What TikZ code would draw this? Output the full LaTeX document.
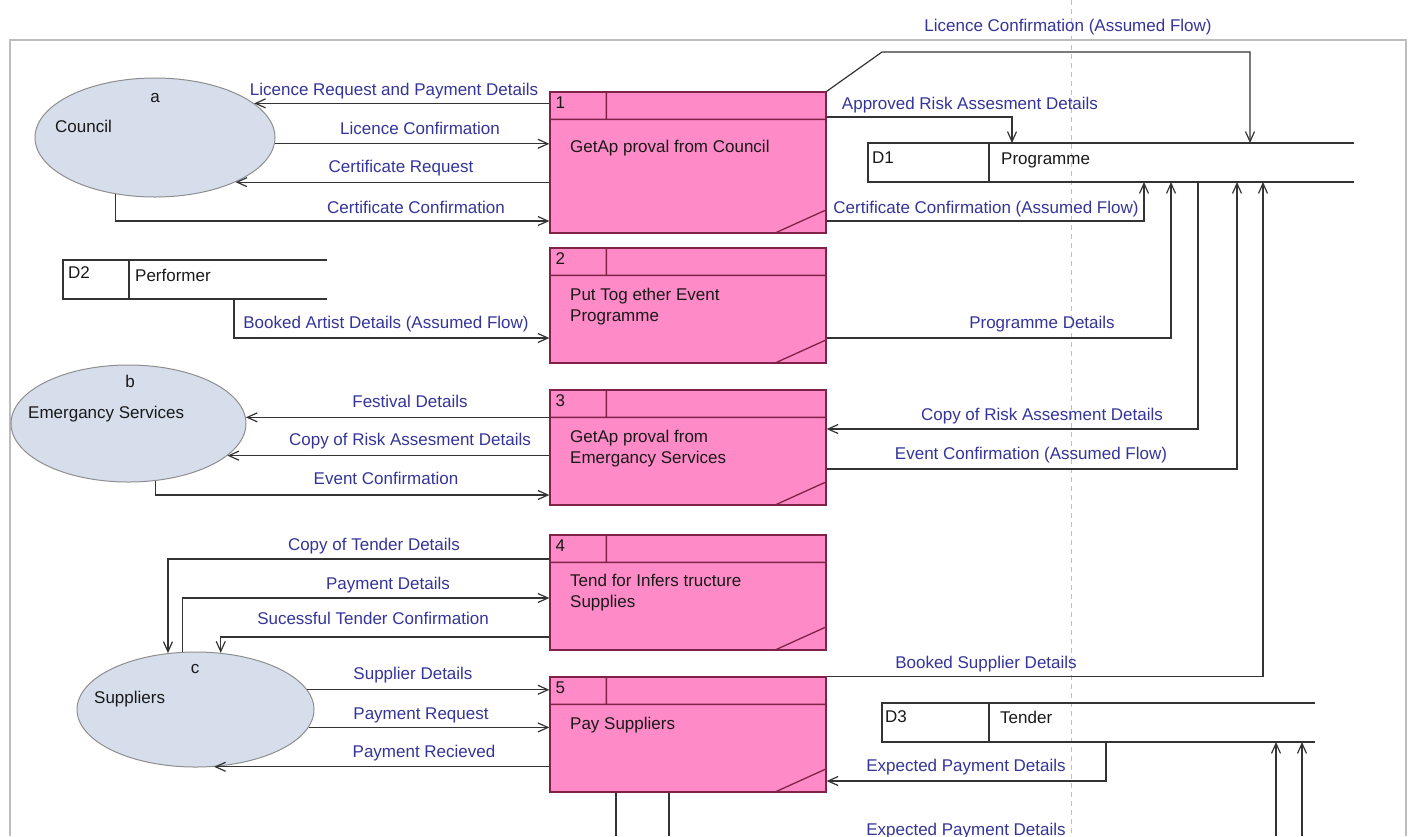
\documentclass[tikz,border=0pt]{standalone}
\usepackage{fontspec}
\setmainfont{Liberation Sans}
\usetikzlibrary{arrows.meta,shapes.geometric}
\definecolor{procfill}{HTML}{FF8AC8}
\definecolor{procedge}{HTML}{7E2347}
\definecolor{extfill}{HTML}{D6DEEC}
\definecolor{extedge}{HTML}{8E8E8E}
\definecolor{flowtext}{HTML}{34349A}
\definecolor{framegray}{HTML}{BDBDBD}
\tikzset{
  process/.style={rectangle, draw=procedge, fill=procfill, line width=1.3pt, minimum width=276, minimum height=115, inner sep=0},
  procline/.style={draw=procedge, line width=1.3pt},
  extent/.style={ellipse, draw=extedge, fill=extfill, line width=1pt, inner sep=0},
  store/.style={rectangle, inner sep=0, outer sep=0, minimum height=39},
  storeline/.style={draw=black!80, line width=1.2pt},
  flow/.style={draw=black!80, line width=1.2pt, -{Straight Barb[length=10pt,width=9pt]}},
  plainflow/.style={draw=black!80, line width=1.2pt},
  flowlab/.style={text=flowtext, font=\fontsize{17}{21}\selectfont, inner sep=0, anchor=base},
  proctext/.style={text=black!90, font=\fontsize{17}{21}\selectfont, inner sep=0, anchor=base west, align=left},
  boxlab/.style={text=black!90, font=\fontsize{17}{21}\selectfont, inner sep=0, anchor=base west}
}
\begin{document}
\begin{tikzpicture}[x=1pt,y=-1pt]
\useasboundingbox (0,0) rectangle (1410,836);
\draw[black!25, line width=0.8pt, dash pattern=on 5pt off 4pt] (1071,0) -- (1071,836);
\draw[framegray, line width=1.5pt] (10,836) -- (10,40) -- (1406,40) -- (1406,836);

\node[extent, minimum width=240, minimum height=119] (council) at (155,137.5) {};
\node[boxlab, anchor=base] (councilid) at (155,102) {a};
\node[boxlab] (councilname) at (55,132) {Council};
\node[extent, minimum width=235, minimum height=117] (emerg) at (128.5,423.5) {};
\node[boxlab, anchor=base] (emergid) at (130,387) {b};
\node[boxlab] (emergname) at (28,418) {Emergancy Services};
\node[extent, minimum width=237, minimum height=115] (supp) at (195.5,709.5) {};
\node[boxlab, anchor=base] (suppid) at (195,673) {c};
\node[boxlab] (suppname) at (94,703) {Suppliers};

\node[process, minimum height=141] (p1) at (688,162.5) {};
\draw[procline] ([yshift=-28]p1.north west) -- ([yshift=-28]p1.north east) ([xshift=57]p1.north west) -- ([xshift=57,yshift=-28]p1.north west) ([xshift=-53]p1.south east) -- ([yshift=24]p1.south east);
\node[boxlab] (p1id) at ([xshift=6,yshift=-17]p1.north west) {1};
\node[proctext] (p1text) at (570,152) {GetAp proval from Council};
\node[process] (p2) at (688,305.5) {};
\draw[procline] ([yshift=-28]p2.north west) -- ([yshift=-28]p2.north east) ([xshift=57]p2.north west) -- ([xshift=57,yshift=-28]p2.north west) ([xshift=-53]p2.south east) -- ([yshift=24]p2.south east);
\node[boxlab] (p2id) at ([xshift=6,yshift=-17]p2.north west) {2};
\node[proctext] (p2text) at (570,321) {Put Tog ether Event\\Programme};
\node[process] (p3) at (688,447.5) {};
\draw[procline] ([yshift=-28]p3.north west) -- ([yshift=-28]p3.north east) ([xshift=57]p3.north west) -- ([xshift=57,yshift=-28]p3.north west) ([xshift=-53]p3.south east) -- ([yshift=24]p3.south east);
\node[boxlab] (p3id) at ([xshift=6,yshift=-17]p3.north west) {3};
\node[proctext] (p3text) at (570,463) {GetAp proval from\\Emergancy Services};
\node[process] (p4) at (688,592.5) {};
\draw[procline] ([yshift=-28]p4.north west) -- ([yshift=-28]p4.north east) ([xshift=57]p4.north west) -- ([xshift=57,yshift=-28]p4.north west) ([xshift=-53]p4.south east) -- ([yshift=24]p4.south east);
\node[boxlab] (p4id) at ([xshift=6,yshift=-17]p4.north west) {4};
\node[proctext] (p4text) at (570,607) {Tend for Infers tructure\\Supplies};
\node[process] (p5) at (688,734.5) {};
\draw[procline] ([yshift=-28]p5.north west) -- ([yshift=-28]p5.north east) ([xshift=57]p5.north west) -- ([xshift=57,yshift=-28]p5.north west) ([xshift=-53]p5.south east) -- ([yshift=24]p5.south east);
\node[boxlab] (p5id) at ([xshift=6,yshift=-17]p5.north west) {5};
\node[proctext] (p5text) at (570,729) {Pay Suppliers};

\node[store, minimum width=486] (d1) at (1111,162.5) {};
\draw[storeline] (d1.north east) -- (d1.north west) -- (d1.south west) -- (d1.south east) (989,0 |- d1.north) -- (989,0 |- d1.south);
\node[boxlab] (d1id) at (872,163) {D1};
\node[boxlab] (d1name) at (1001,164) {Programme};
\node[store, minimum width=264] (d2) at (195,279.5) {};
\draw[storeline] (d2.north east) -- (d2.north west) -- (d2.south west) -- (d2.south east) (129,0 |- d2.north) -- (129,0 |- d2.south);
\node[boxlab] (d2id) at (68,278) {D2};
\node[boxlab] (d2name) at (135,281) {Performer};
\node[store, minimum width=433] (d3) at (1098.5,722.5) {};
\draw[storeline] (d3.north east) -- (d3.north west) -- (d3.south west) -- (d3.south east) (989,0 |- d3.north) -- (989,0 |- d3.south);
\node[boxlab] (d3id) at (885,722) {D3};
\node[boxlab] (d3name) at (1000,723) {Tender};

\draw[flow] (p1.west |- council.19) -- (council.19);
\node[flowlab] (f1) at (394,95) {Licence Request and Payment Details};
\draw[flow] (council.-3) -- (p1.west |- council.-3);
\node[flowlab] (f2) at (420,134) {Licence Confirmation};
\draw[flow] (p1.west |- council.-29) -- (council.-29);
\node[flowlab] (f3) at (401,172) {Certificate Request};
\draw[flow] (council.-125) |- (p1.west |- 0,221);
\node[flowlab] (f4) at (416,213) {Certificate Confirmation};
\draw[flow] (p1.north east) -- (882,52) -| (1250,0 |- d1.north);
\node[flowlab] (f5) at (1068,31) {Licence Confirmation (Assumed Flow)};
\draw[flow] (p1.east |- 0,117) -| (1012,0 |- d1.north);
\node[flowlab] (f6) at (970,109) {Approved Risk Assesment Details};
\draw[flow] (p1.east |- 0,221) -| (1144,0 |- d1.south);
\node[flowlab] (f7) at (986,213) {Certificate Confirmation (Assumed Flow)};

\draw[flow] (234,0 |- d2.south) |- (p2.west |- 0,338);
\node[flowlab] (f8) at (386,328) {Booked Artist Details (Assumed Flow)};
\draw[flow] (p2.east |- 0,338) -| (1171,0 |- d1.south);
\node[flowlab] (f9) at (1042,328) {Programme Details};

\draw[flow] (p3.west |- emerg.3) -- (emerg.3);
\node[flowlab] (f10) at (410,407) {Festival Details};
\draw[flow] (p3.west |- emerg.-18) -- (emerg.-18);
\node[flowlab] (f11) at (410,445) {Copy of Risk Assesment Details};
\draw[flow] (emerg.-65) |- (p3.west |- 0,495);
\node[flowlab] (f12) at (386,484) {Event Confirmation};
\draw[flow] (1198,0 |- d1.south) |- (p3.east |- 0,429);
\node[flowlab] (f13) at (1042,420) {Copy of Risk Assesment Details};
\draw[flow] (p3.east |- 0,469) -| (1237,0 |- d1.south);
\node[flowlab] (f14) at (1031,459) {Event Confirmation (Assumed Flow)};

\draw[flow] (p4.west |- 0,559) -| (supp.116);
\node[flowlab] (f15) at (374,550) {Copy of Tender Details};
\draw[flow] (supp.103) |- (p4.west |- 0,598);
\node[flowlab] (f16) at (388,589) {Payment Details};
\draw[flow] (p4.west |- 0,637) -| (supp.66);
\node[flowlab] (f17) at (373,624) {Sucessful Tender Confirmation};

\draw[flow] (supp.10) -- (p5.west |- supp.10);
\node[flowlab] (f18) at (413,679) {Supplier Details};
\draw[flow] (supp.-9) -- (p5.west |- supp.-9);
\node[flowlab] (f19) at (421,719) {Payment Request};
\draw[flow] (p5.west |- supp.-72) -- (supp.-72);
\node[flowlab] (f20) at (424,757) {Payment Recieved};
\draw[flow] (p5.north east) -| (1263,0 |- d1.south);
\node[flowlab] (f21) at (986,668) {Booked Supplier Details};
\draw[flow] (1106,0 |- d3.south) |- (p5.east |- 0,781);
\node[flowlab] (f22) at (966,771) {Expected Payment Details};
\node[flowlab] (f23) at (966,835) {Expected Payment Details};

\coordinate (out1) at (616,836);
\coordinate (out2) at (669,836);
\draw[plainflow] (p5.south -| out1) -- (out1) (p5.south -| out2) -- (out2);
\coordinate (in1) at (1276,836);
\coordinate (in2) at (1302,836);
\draw[flow] (in1) -- (in1 |- d3.south);
\draw[flow] (in2) -- (in2 |- d3.south);
\end{tikzpicture}
\end{document}
